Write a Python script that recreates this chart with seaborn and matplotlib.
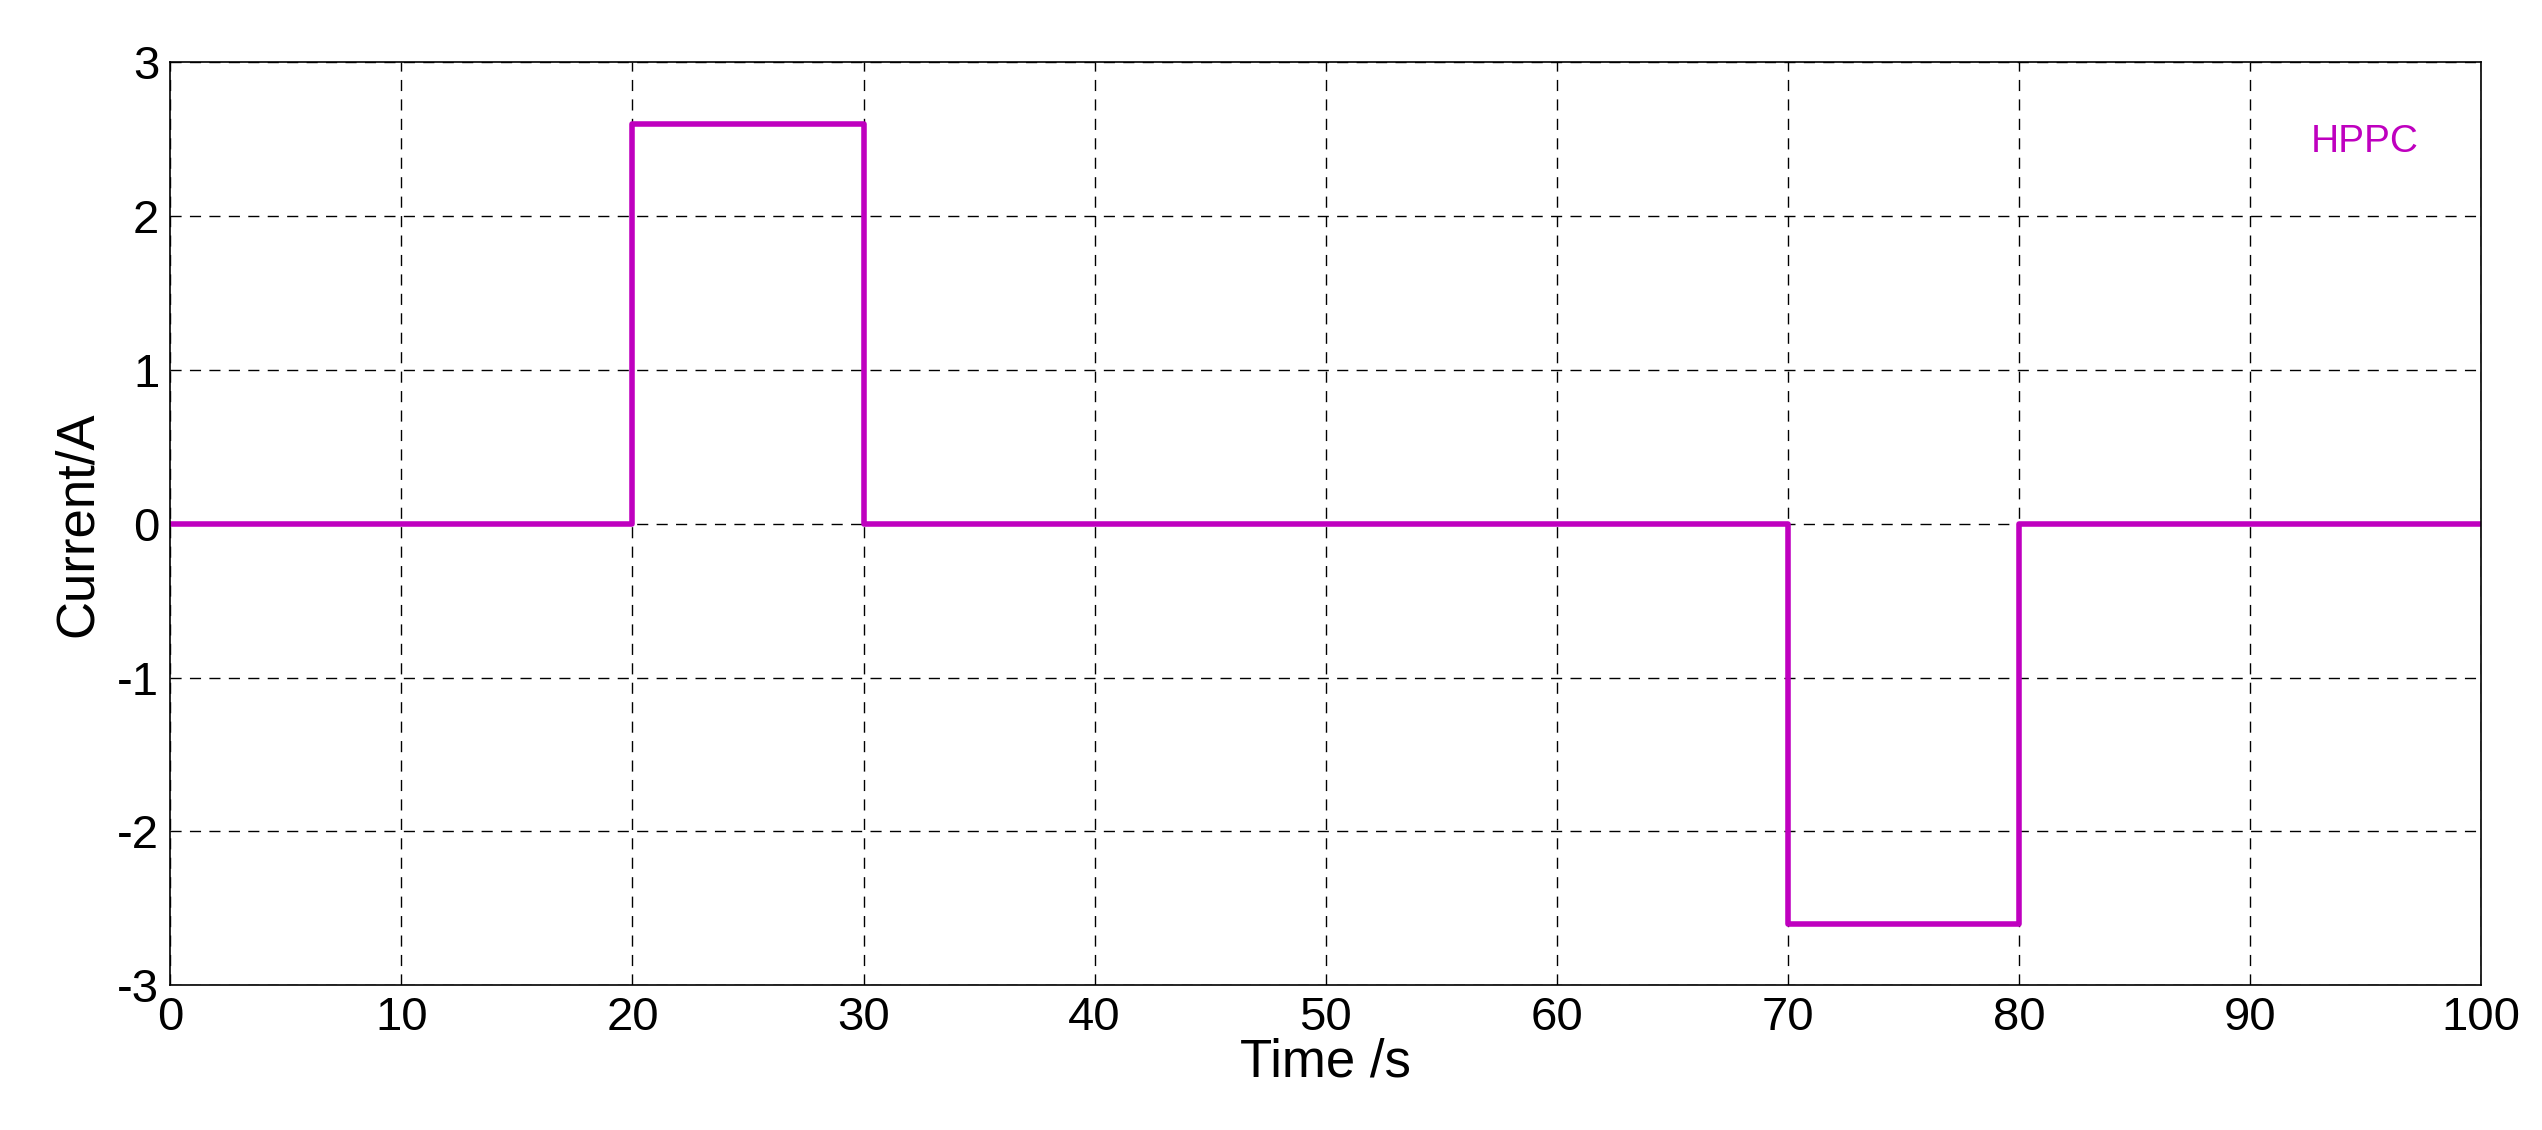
import matplotlib
matplotlib.use("agg")
import matplotlib.pyplot as plt
import seaborn as sns
import pandas as pd

time_s = [0, 20, 20, 30, 30, 70, 70, 80, 80, 100]
current_a = [0, 0, 2.6, 2.6, 0, 0, -2.6, -2.6, 0, 0]

sns.set_style("white")
plt.rcParams["font.family"] = ["Liberation Sans", "DejaVu Sans"]
plt.rcParams["axes.unicode_minus"] = False

data = pd.DataFrame({"Time": time_s, "Current": current_a})

fig = plt.figure(figsize=(25.42, 11.3), dpi=100)
ax = fig.add_axes([0.067, 0.128, 0.909, 0.817])
sns.lineplot(data=data, x="Time", y="Current", sort=False, estimator=None,
             ax=ax, color="#BF00BF", linewidth=4, label="HPPC")
ax.set_xlim(0, 100)
ax.set_ylim(-3, 3)
ax.set_xticks(range(0, 101, 10))
ax.set_yticks(range(-3, 4))
ax.grid(True, linestyle=(0, (8, 6)), color="black", linewidth=1)
for s in ax.spines.values():
    s.set_color("black")
    s.set_linewidth(1.2)
ax.tick_params(labelsize=34, direction="in", length=8, color="black",
               labelcolor="black", pad=8)
ax.set_xlabel("Time /s", fontsize=38, labelpad=-2, color="black")
ax.set_ylabel("Current/A", fontsize=38, labelpad=10, color="black")
ax.legend(loc="upper right", frameon=False, handlelength=0, handletextpad=0,
          labelcolor="#BF00BF", fontsize=28, borderaxespad=1.2)
fig.savefig("out.png")
